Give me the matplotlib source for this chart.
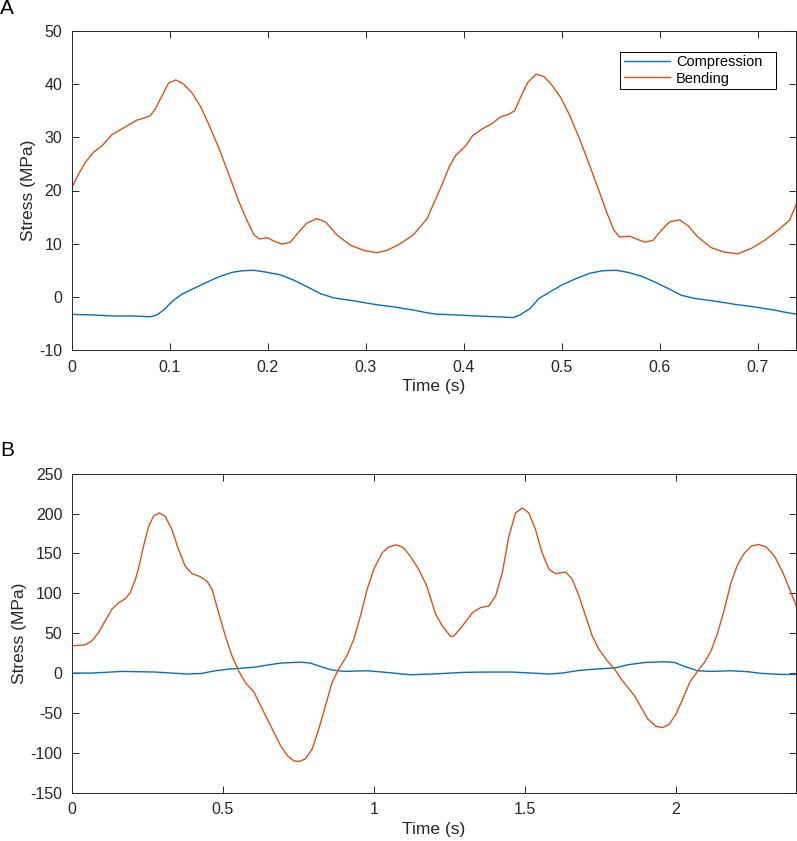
import matplotlib
matplotlib.use("Agg")
import matplotlib.pyplot as plt

plt.rcParams['font.family'] = ['Liberation Sans', 'DejaVu Sans']
plt.rcParams['axes.unicode_minus'] = False

# ---------------- Panel A data ----------------
a_bend_t = [0.0, 0.0068, 0.0136, 0.0221, 0.0306, 0.0408, 0.051, 0.0595, 0.0663, 0.0731,
            0.080, 0.085, 0.0918, 0.0986, 0.1061, 0.114, 0.1224, 0.131, 0.1395, 0.1497,
            0.160, 0.170, 0.1786, 0.1857, 0.191, 0.1997, 0.2061, 0.2146, 0.223, 0.2316,
            0.240, 0.250, 0.2588, 0.2707, 0.2844, 0.298, 0.311, 0.3218, 0.3354, 0.349,
            0.3626, 0.3677, 0.3714, 0.3782, 0.385, 0.3918, 0.402, 0.409, 0.419, 0.429,
            0.438, 0.445, 0.452, 0.458, 0.4653, 0.474, 0.4823, 0.4905, 0.499, 0.5075,
            0.5177, 0.528, 0.538, 0.5466, 0.5534, 0.5592, 0.5694, 0.5762, 0.5847, 0.5932,
            0.6017, 0.6102, 0.6204, 0.6289, 0.6391, 0.6527, 0.6663, 0.6799, 0.6935, 0.7071,
            0.7207, 0.7327, 0.7398]
a_bend_v = [20.6, 23.1, 25.3, 27.2, 28.4, 30.5, 31.6, 32.5, 33.25, 33.6,
            34.1, 35.3, 37.8, 40.2, 40.8, 40.0, 38.4, 35.9, 32.5, 28.1,
            23.1, 18.1, 14.4, 11.7, 10.9, 11.1, 10.5, 9.9, 10.3, 12.2,
            13.9, 14.7, 14.1, 11.6, 9.7, 8.75, 8.3, 8.75, 10.0, 11.75,
            14.7, 16.9, 18.4, 21.25, 24.4, 26.6, 28.4, 30.3, 31.6, 32.6,
            33.9, 34.25, 35.0, 37.5, 40.3, 41.9, 41.4, 39.7, 37.5, 34.4,
            30.0, 25.0, 20.0, 15.6, 12.5, 11.25, 11.4, 10.9, 10.3, 10.6,
            12.5, 14.1, 14.5, 13.4, 11.25, 9.25, 8.4, 8.1, 9.1, 10.6,
            12.5, 14.4, 17.5]

a_comp_t = [0.0, 0.0204, 0.0408, 0.0612, 0.080, 0.0867, 0.0935, 0.102, 0.1122, 0.1224,
            0.136, 0.1497, 0.1633, 0.1735, 0.1857, 0.1997, 0.2133, 0.227, 0.2401, 0.2537,
            0.2673, 0.2878, 0.3082, 0.3286, 0.349, 0.3626, 0.3714, 0.3918, 0.4133, 0.4337,
            0.4507, 0.4575, 0.4677, 0.4769, 0.4878, 0.500, 0.5143, 0.528, 0.5415, 0.5557,
            0.5677, 0.5813, 0.5949, 0.6085, 0.6221, 0.6357, 0.6561, 0.6765, 0.697, 0.7173,
            0.731, 0.7398]
a_comp_v = [-3.3, -3.4, -3.6, -3.6, -3.75, -3.4, -2.5, -0.9, 0.5, 1.4,
            2.6, 3.75, 4.6, 4.9, 5.0, 4.6, 4.1, 3.1, 1.9, 0.6,
            -0.2, -0.75, -1.4, -1.9, -2.5, -3.0, -3.25, -3.4, -3.6, -3.75,
            -3.9, -3.4, -2.2, -0.3, 0.9, 2.2, 3.4, 4.4, 4.9, 5.0,
            4.6, 3.9, 2.8, 1.6, 0.3, -0.3, -0.8, -1.4, -1.9, -2.5,
            -3.0, -3.25]

# ---------------- Panel B data ----------------
b_bend_t = [0.0, 0.044, 0.066, 0.088, 0.110, 0.132, 0.155, 0.177, 0.193, 0.210,
            0.221, 0.237, 0.254, 0.270, 0.289, 0.309, 0.331, 0.353, 0.375, 0.397,
            0.425, 0.447, 0.464, 0.486, 0.508, 0.530, 0.552, 0.574, 0.603, 0.625,
            0.647, 0.669, 0.691, 0.713, 0.735, 0.754, 0.774, 0.796, 0.818, 0.840,
            0.862, 0.884, 0.911, 0.934, 0.956, 0.978, 1.000, 1.028, 1.050, 1.075,
            1.099, 1.121, 1.149, 1.176, 1.205, 1.227, 1.255, 1.266, 1.294, 1.327,
            1.354, 1.382, 1.404, 1.426, 1.448, 1.470, 1.492, 1.514, 1.536, 1.558,
            1.581, 1.603, 1.636, 1.658, 1.680, 1.702, 1.724, 1.746, 1.774, 1.800,
            1.820, 1.842, 1.864, 1.886, 1.908, 1.936, 1.958, 1.980, 2.002, 2.024,
            2.047, 2.074, 2.096, 2.118, 2.140, 2.162, 2.184, 2.206, 2.229, 2.251,
            2.275, 2.300, 2.328, 2.356, 2.383, 2.400]
b_bend_v = [34.2, 35.4, 40.4, 50.8, 65.4, 80.0, 88.3, 93.3, 100.8, 117.5,
            132.0, 159.0, 184.0, 196.7, 200.8, 196.7, 180.0, 155.0, 134.2, 125.0,
            120.8, 115.4, 105.0, 75.8, 46.7, 21.7, 2.9, -11.7, -24.0, -40.8,
            -57.5, -74.2, -90.8, -103.3, -110.0, -110.8, -107.5, -95.0, -70.0, -40.8,
            -11.7, 5.0, 21.7, 42.5, 71.7, 105.0, 130.0, 150.8, 158.3, 160.8,
            157.0, 146.7, 130.0, 109.0, 73.8, 59.2, 45.8, 46.7, 59.2, 75.8,
            82.1, 84.2, 96.7, 125.8, 171.7, 200.8, 207.0, 200.8, 180.0, 150.8,
            130.0, 124.6, 126.7, 117.5, 96.7, 71.7, 46.7, 30.0, 15.4, 4.0,
            -7.5, -17.9, -28.3, -42.9, -57.5, -67.0, -68.3, -63.8, -51.3, -32.5,
            -11.7, 2.9, 13.3, 27.9, 50.8, 80.0, 113.3, 136.3, 150.8, 159.2,
            161.3, 158.3, 146.7, 125.8, 100.8, 84.2]

b_comp_t = [0.0, 0.066, 0.166, 0.276, 0.331, 0.386, 0.430, 0.475, 0.519, 0.552,
            0.603, 0.647, 0.691, 0.757, 0.790, 0.823, 0.857, 0.901, 0.978, 1.044,
            1.121, 1.205, 1.294, 1.360, 1.459, 1.526, 1.581, 1.625, 1.680, 1.735,
            1.800, 1.842, 1.898, 1.964, 1.997, 2.030, 2.074, 2.118, 2.184, 2.240,
            2.284, 2.350, 2.400]
b_comp_v = [0.0, 0.0, 2.1, 1.3, 0.0, -1.25, -0.4, 2.9, 5.0, 5.8,
            7.3, 10.0, 12.5, 13.75, 12.5, 8.3, 4.2, 2.1, 2.9, 0.8,
            -2.1, -1.0, 0.8, 1.25, 1.25, 0.0, -1.25, 0.0, 3.3, 5.0,
            6.5, 10.4, 13.3, 14.2, 13.3, 8.3, 2.9, 2.1, 2.9, 1.7,
            -0.4, -1.7, -1.7]

a_xticks = [0, 0.1, 0.2, 0.3, 0.4, 0.5, 0.6, 0.7]
a_xticklabels = ['0', '0.1', '0.2', '0.3', '0.4', '0.5', '0.6', '0.7']
a_yticks = [-10, 0, 10, 20, 30, 40, 50]
b_xticks = [0, 0.5, 1, 1.5, 2]
b_xticklabels = ['0', '0.5', '1', '1.5', '2']
b_yticks = [-150, -100, -50, 0, 50, 100, 150, 200, 250]

BLUE = '#0072BD'
ORANGE = '#D95319'
AXC = '#262626'

W, H = 797, 841
fig = plt.figure(figsize=(W / 100, H / 100), dpi=100)

AX_L, AX_R = 72, 796.2

def make_axes(top_px, bottom_px):
    left = AX_L / W
    width = (AX_R - AX_L) / W
    bottom = 1 - bottom_px / H
    height = (bottom_px - top_px) / H
    return fig.add_axes([left, bottom, width, height])

def style(ax):
    for s in ax.spines.values():
        s.set_color(AXC)
        s.set_linewidth(0.7)
    ax.tick_params(direction='in', length=5, width=0.7, color=AXC,
                   labelcolor=AXC, labelsize=11.5, top=True, right=True, pad=7)

axA = make_axes(31, 350)
axA.plot(a_comp_t, a_comp_v, color=BLUE, lw=1.0, label='Compression')
axA.plot(a_bend_t, a_bend_v, color=ORANGE, lw=1.0, label='Bending')
axA.set_xlim(0, 0.7395)
axA.set_ylim(-10, 50)
axA.set_xticks(a_xticks)
axA.set_xticklabels(a_xticklabels)
axA.set_yticks(a_yticks)
style(axA)
axA.set_xlabel('Time (s)', fontsize=12.5, color=AXC, labelpad=3)
axA.set_ylabel('Stress (MPa)', fontsize=12.5, color=AXC, labelpad=2)

axw = AX_R - AX_L
leg_x0 = (620 - AX_L) / axw
leg_w = 156 / axw
leg_top = (350 - 51.7) / 319
leg = axA.legend(loc='upper left', bbox_to_anchor=(leg_x0, leg_top - 0.1, leg_w, 0.1),
                 mode='expand', borderaxespad=0, fontsize=10.5, frameon=True,
                 fancybox=False, edgecolor='black', framealpha=1, handlelength=3.2,
                 handletextpad=0.4, labelspacing=0.15, borderpad=0.25)
leg.get_frame().set_linewidth(0.7)

axB = make_axes(473.7, 792.7)
axB.plot(b_comp_t, b_comp_v, color=BLUE, lw=1.0)
axB.plot(b_bend_t, b_bend_v, color=ORANGE, lw=1.0)
axB.set_xlim(0, 2.4)
axB.set_ylim(-150, 250)
axB.set_xticks(b_xticks)
axB.set_xticklabels(b_xticklabels)
axB.set_yticks(b_yticks)
style(axB)
axB.set_xlabel('Time (s)', fontsize=12.5, color=AXC, labelpad=3)
axB.set_ylabel('Stress (MPa)', fontsize=12.5, color=AXC, labelpad=2)

fig.text(0 / W, 1 - 8 / H, 'A', fontsize=15, ha='left', va='center', color='black')
fig.text(0 / W, 1 - 450 / H, 'B', fontsize=15, ha='left', va='center', color='black')

fig.savefig('out.png', dpi=100)
